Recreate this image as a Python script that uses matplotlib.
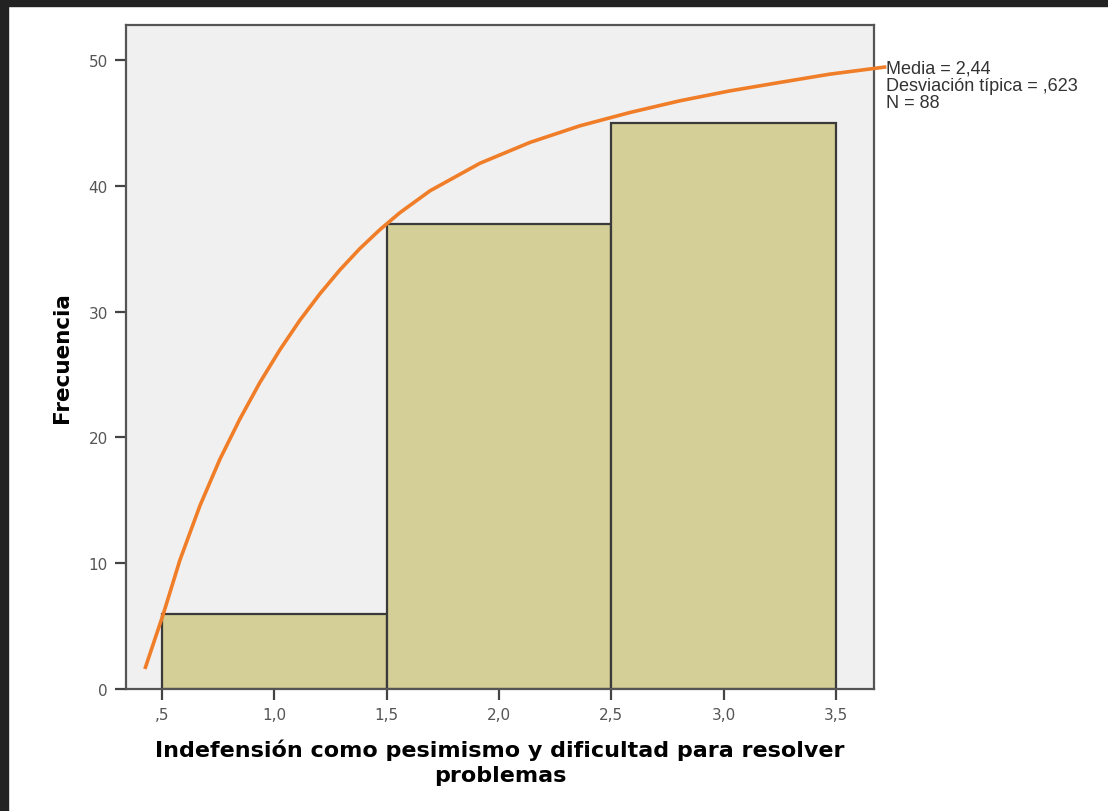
import matplotlib
matplotlib.use('Agg')
import matplotlib.pyplot as plt
from matplotlib.patches import Rectangle

# histogram bins and counts
bin_edges = [0.5, 1.5, 2.5, 3.5]
counts = [6, 37, 45]

# curve points
curve_x = [0.424, 0.506, 0.580, 0.669, 0.758, 0.847, 0.936, 1.025, 1.114,
           1.203, 1.292, 1.381, 1.470, 1.559, 1.693, 1.915, 2.138, 2.360,
           2.583, 2.805, 3.028, 3.250, 3.473, 3.725]
curve_y = [1.59, 5.96, 10.25, 14.57, 18.27, 21.47, 24.37, 26.97, 29.32,
           31.42, 33.32, 35.02, 36.52, 37.87, 39.61, 41.80, 43.46, 44.78,
           45.84, 46.77, 47.56, 48.23, 48.89, 49.47]

xticks = [0.5, 1.0, 1.5, 2.0, 2.5, 3.0, 3.5]
xticklabels = [',5', '1,0', '1,5', '2,0', '2,5', '3,0', '3,5']
yticks = [0, 10, 20, 30, 40, 50]

stats_text = 'Media = 2,44\nDesviación típica = ,623\nN = 88'

fig = plt.figure(figsize=(11.08, 8.12), dpi=100)
ax = fig.add_axes([126/1108, 1-690/812, (874-126)/1108, (690-26)/812])
ax.set_facecolor('#f0f0f0')

widths = [bin_edges[i+1] - bin_edges[i] for i in range(len(counts))]
ax.bar(bin_edges[:-1], counts, width=widths, align='edge', color='#d3cf97',
       edgecolor='#3a3a3a', linewidth=1.6, zorder=2)

ax.plot(curve_x, curve_y, color='#f07d28', linewidth=2.6, clip_on=False,
        zorder=3, solid_capstyle='butt', solid_joinstyle='round')

ax.set_xlim(0.34, 3.67)
ax.set_ylim(0, 52.8)
ax.set_xticks(xticks)
ax.set_xticklabels(xticklabels)
ax.set_yticks(yticks)
ax.tick_params(direction='out', length=8, width=1.6, color='#444444',
               labelcolor='#555555', labelsize=11, pad=5)
for s in ax.spines.values():
    s.set_color('#555555')
    s.set_linewidth(1.6)

ax.set_ylabel('Frecuencia', fontsize=15.5, fontweight='bold', labelpad=12)
ax.set_xlabel('Indefensión como pesimismo y dificultad para resolver\nproblemas',
              fontsize=16, fontweight='bold', labelpad=12, linespacing=1.3)

fig.text(886/1108, 1-61/812, stats_text, fontsize=13, color='#333333',
         family='Liberation Sans', va='top', ha='left', linespacing=1.0)

# screenshot frame
fig.patches.append(Rectangle((0, 1-7/812), 1, 7/812, transform=fig.transFigure,
                             color='#222222', zorder=10))
fig.patches.append(Rectangle((0, 0), 8/1108, 1, transform=fig.transFigure,
                             color='#222222', zorder=10))

fig.savefig('out.png', dpi=100)
